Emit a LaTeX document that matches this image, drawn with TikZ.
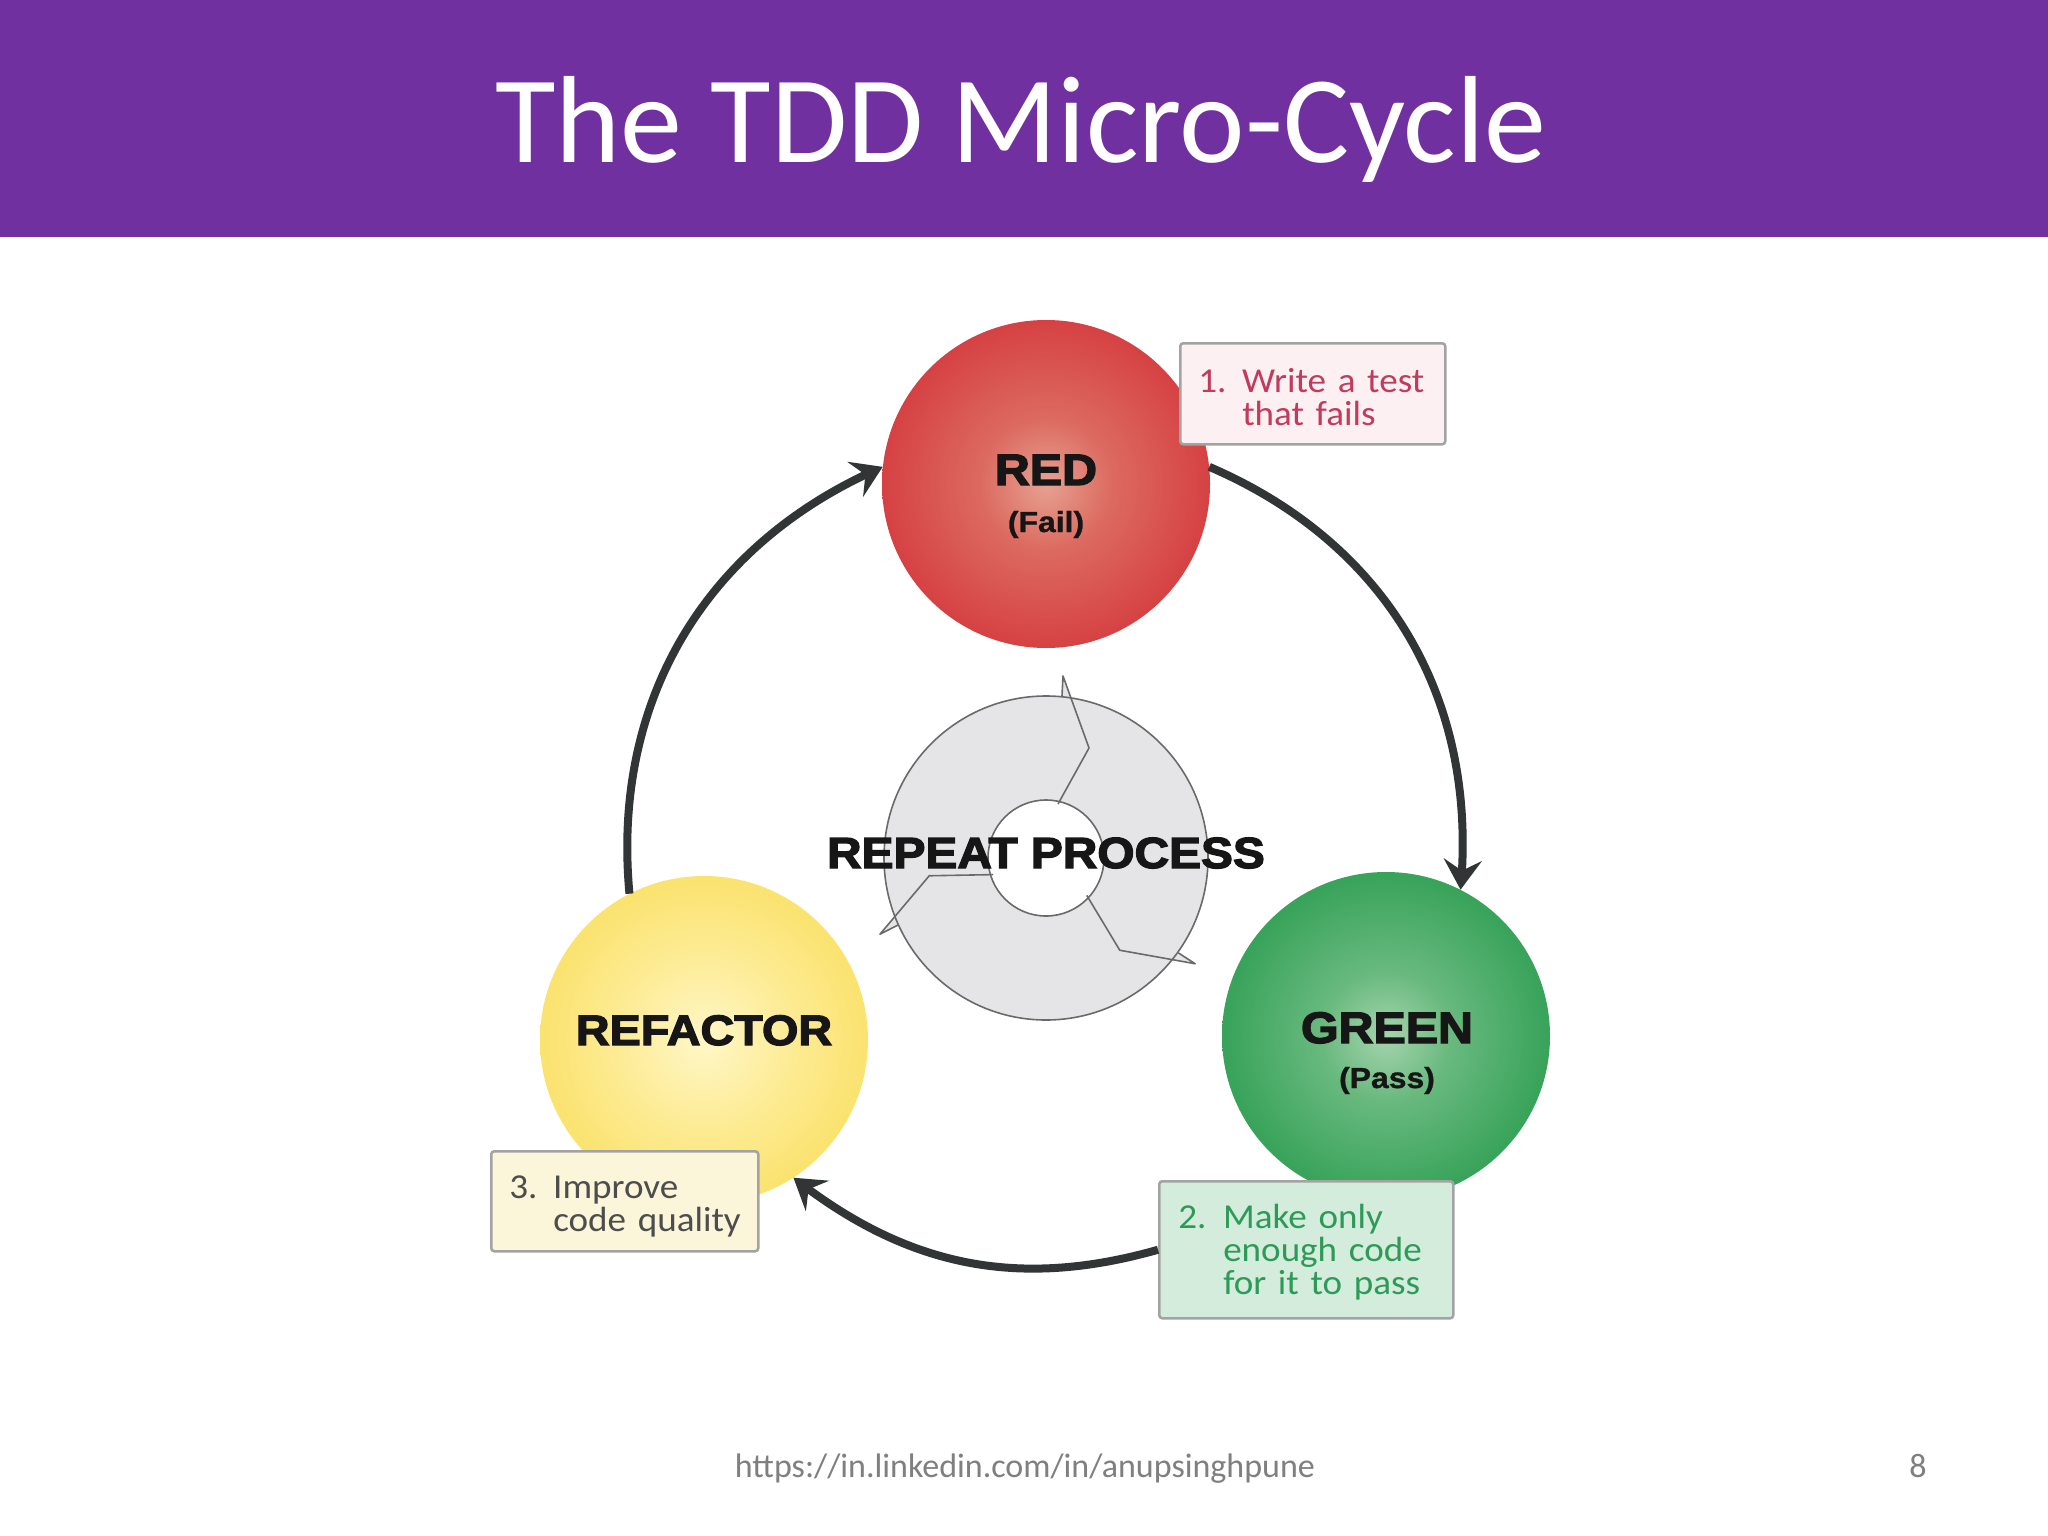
\documentclass[tikz,border=0pt]{standalone}
\usepackage{fontspec}
\setmainfont{Carlito}
\newfontfamily\titlefont{Carlito}
\newfontfamily\boxfont{Carlito}[FakeStretch=1.06]
\newfontfamily\heavyfont{Liberation Sans}[FakeStretch=1.1, BoldFeatures={FakeBold=3}]
\newfontfamily\subfont{Liberation Sans}[FakeStretch=1.1, BoldFeatures={FakeBold=1}]
\usetikzlibrary{arrows.meta,bending}
\definecolor{bandpurple}{HTML}{7030A0}
\definecolor{arrowgray}{HTML}{313536}
\definecolor{diskfill}{HTML}{E5E5E8}
\definecolor{diskline}{HTML}{6A6A6A}
\definecolor{boxline}{HTML}{A3A3A3}
\definecolor{pinkfill}{HTML}{FDF0F2}
\definecolor{pinktext}{HTML}{C23A5C}
\definecolor{greenfill}{HTML}{D4ECDB}
\definecolor{greentext}{HTML}{2E9A58}
\definecolor{yellowfill}{HTML}{FBF5DA}
\definecolor{yellowtext}{HTML}{4D4D4D}
\definecolor{labelblack}{HTML}{161616}
\definecolor{footgray}{HTML}{7F7F7F}
\definecolor{rA}{HTML}{E6A292}\definecolor{rB}{HTML}{DC6A60}\definecolor{rC}{HTML}{D43439}\definecolor{rD}{HTML}{CC1B2A}
\definecolor{gA}{HTML}{A6D4AE}\definecolor{gB}{HTML}{68B97E}\definecolor{gC}{HTML}{2E9E52}\definecolor{gD}{HTML}{1C9446}
\definecolor{yA}{HTML}{FFF7C8}\definecolor{yB}{HTML}{FDEB92}\definecolor{yC}{HTML}{F9DD58}\definecolor{yD}{HTML}{F6D234}
\pgfdeclareradialshading{redball}{\pgfpoint{0bp}{0bp}}{color(0bp)=(rA); color(10bp)=(rB); color(30bp)=(rC); color(50bp)=(rD); color(100bp)=(rD)}
\pgfdeclareradialshading{greenball}{\pgfpoint{0bp}{0bp}}{color(0bp)=(gA); color(10bp)=(gB); color(28bp)=(gC); color(50bp)=(gD); color(100bp)=(gD)}
\pgfdeclareradialshading{yellowball}{\pgfpoint{0bp}{0bp}}{color(0bp)=(yA); color(14bp)=(yB); color(32bp)=(yC); color(50bp)=(yD); color(100bp)=(yD)}
\begin{document}
\begin{tikzpicture}[x=1pt,y=-1pt,
  ball/.style={circle, minimum size=328pt, inner sep=0pt, draw=none, shade},
  notebox/.style={rectangle, rounded corners=3pt, draw=boxline, line width=2.5pt,
     align=left, anchor=north west, inner ysep=0pt,
     font=\boxfont\fontsize{35}{33}\selectfont},
  flow/.style={draw=arrowgray, line width=8pt, -{Stealth[length=30pt,width=38pt,inset=11pt,flex]}},
  biglabel/.style={anchor=base, inner sep=0pt, text=labelblack, font=\heavyfont\bfseries\fontsize{44}{44}\selectfont},
  sublabel/.style={anchor=base, inner sep=0pt, text=labelblack, font=\subfont\bfseries\fontsize{29}{29}\selectfont},
  footer/.style={anchor=base, inner sep=0pt, text=footgray, font=\fontsize{34}{34}\selectfont},
  diskedge/.style={draw=diskline, line width=1.6pt, line join=round}
]
\useasboundingbox (0,0) rectangle (2048,1536);
\fill[white] (0,0) rectangle (2048,1536);
\fill[bandpurple] (0,0) rectangle (2048,237);
\node[anchor=base, inner sep=0pt, text=white, font=\titlefont\fontsize{124}{124}\selectfont] (title) at (1021,163) {The TDD Micro-Cycle};

% repeat-process disk
\begin{scope}[shift={(1046,858)}]
  \fill[diskfill, even odd rule] (0,0) circle[radius=162] (0,0) circle[radius=58];
  \foreach \a in {0,120,240}{
    \fill[diskfill, rotate=\a] (16,-162) -- (17,-182) -- (25,-160) -- cycle;
  }
  \draw[diskedge] (0,0) circle[radius=162];
  \draw[diskedge] (0,0) circle[radius=58];
  \foreach \a in {0,120,240}{
    \draw[diskedge, rotate=\a] (16,-162) -- (17,-182) -- (43,-110) -- (12,-54);
  }
\end{scope}

% phase circles
\node[ball, shading=redball] (red) at (1046,484) {};
\node[ball, shading=greenball] (green) at (1386,1036) {};
\node[ball, shading=yellowball] (yellow) at (704,1040) {};

% note boxes
\node[notebox, fill=pinkfill, text=pinktext, text width=229pt, inner xsep=18pt, minimum height=101pt] (box1) at (1179,342)
  {\rule{0pt}{30pt}\makebox[44pt][l]{1.}\mbox{Write a test}\\\hspace*{44pt}\mbox{that fails}};
\node[notebox, fill=greenfill, text=greentext, text width=256pt, inner xsep=19pt, minimum height=137pt] (box2) at (1158,1180)
  {\rule{0pt}{30pt}\makebox[45pt][l]{2.}\mbox{Make only}\\\hspace*{45pt}\mbox{enough code}\\\hspace*{45pt}\mbox{for it to pass}};
\node[notebox, fill=yellowfill, text=yellowtext, text width=231pt, inner xsep=18pt, minimum height=100pt] (box3) at (490,1150)
  {\rule{0pt}{34pt}\makebox[44pt][l]{3.}\mbox{Improve}\\\hspace*{44pt}\mbox{code quality}};

% cycle arrows
\draw[flow] (red.6) to[bend left=36] (green.63);
\draw[flow] (box2.west) to[bend left=27] (yellow.-57);
\draw[flow] (yellow.117) to[bend left=36] (red.174);

% labels
\node[biglabel] (redlabel) at (1046,485) {RED};
\node[sublabel] (redsub) at (1046,532) {(Fail)};
\node[biglabel] (greenlabel) at (1387,1043) {GREEN};
\node[sublabel] (greensub) at (1387,1088) {(Pass)};
\node[biglabel, font=\heavyfont\bfseries\fontsize{42.5}{42.5}\selectfont] (refactorlabel) at (704,1045) {REFACTOR};
\node[biglabel, font=\heavyfont\bfseries\fontsize{43.5}{43.5}\selectfont] (repeatlabel) at (1046,868) {REPEAT PROCESS};

% footer
\node[footer] (url) at (1025,1477) {https://in.linkedin.com/in/anupsinghpune};
\node[footer] (page) at (1918,1477) {8};
\end{tikzpicture}
\end{document}
